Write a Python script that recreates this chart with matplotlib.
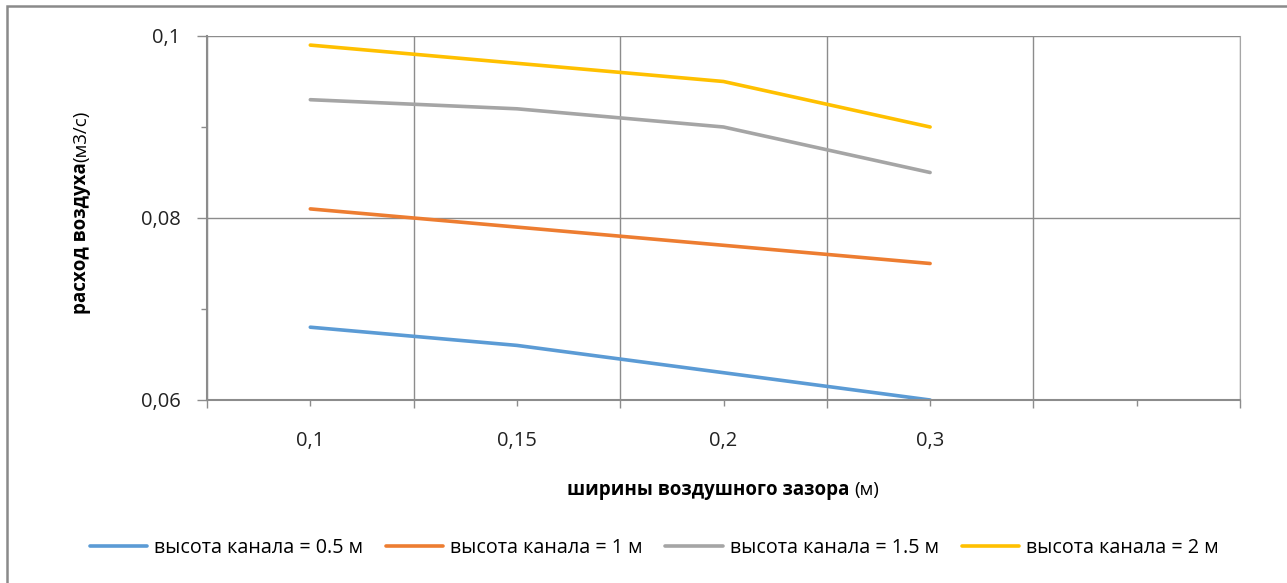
import matplotlib.pyplot as plt
from matplotlib.patches import Rectangle
from matplotlib.ticker import FixedLocator, NullFormatter

plt.rcParams['font.family'] = ['Open Sans', 'DejaVu Sans']

# ширина зазора (категории) и расход воздуха для каждой высоты канала
gap_labels = ["0,1", "0,15", "0,2", "0,3", ""]
flow_05 = [0.068, 0.066, 0.063, 0.060]
flow_1 = [0.081, 0.079, 0.077, 0.075]
flow_15 = [0.093, 0.092, 0.090, 0.085]
flow_2 = [0.099, 0.097, 0.095, 0.090]
series_names = ["высота канала = 0.5 м", "высота канала = 1 м",
                "высота канала = 1.5 м", "высота канала = 2 м"]
colors = ["#5B9BD5", "#ED7D31", "#A5A5A5", "#FFC000"]
y_ticks = [0.06, 0.08, 0.1]
y_tick_labels = ["0,06", "0,08", "0,1"]

W, H = 1287, 583
fig = plt.figure(figsize=(W / 100, H / 100), dpi=100)
ax = fig.add_axes([207 / W, 1 - 400 / H, 1033 / W, 364 / H])

xs = range(len(flow_05))
for vals, name, c in zip([flow_05, flow_1, flow_15, flow_2], series_names, colors):
    ax.plot(xs, vals, color=c, lw=2.6, label=name, solid_capstyle='round')

grid_col = "#8C8C8C"
ax.set_xlim(-0.5, len(gap_labels) - 0.5)
ax.set_ylim(0.06, 0.1)

# x: границы категорий - основные деления и сетка, подписи по центру
ax.xaxis.set_major_locator(FixedLocator([i + 0.5 for i in range(-1, len(gap_labels))]))
ax.xaxis.set_major_formatter(NullFormatter())
ax.xaxis.set_minor_locator(FixedLocator(list(range(len(gap_labels)))))
ax.set_xticklabels(gap_labels, minor=True)
ax.tick_params(axis='x', which='major', length=6, width=1, color=grid_col)
ax.tick_params(axis='x', which='minor', length=4, width=1, color=grid_col,
               labelsize=14.5, pad=18, labelcolor="#222222")

ax.set_yticks(y_ticks)
ax.set_yticklabels(y_tick_labels)
ax.yaxis.set_minor_locator(FixedLocator([0.07, 0.09]))
ax.tick_params(axis='y', which='major', length=7, width=1, color=grid_col,
               labelsize=14.5, pad=12, labelcolor="#222222")
ax.tick_params(axis='y', which='minor', length=4, width=1, color=grid_col)

ax.grid(True, which='major', color=grid_col, lw=1)
ax.set_axisbelow(True)
for side in ['left', 'bottom']:
    ax.spines[side].set_color(grid_col)
    ax.spines[side].set_linewidth(1.5)
ax.spines['right'].set_color("#A6A6A6")
ax.spines['top'].set_visible(False)

# подписи осей: жирная часть + обычная часть в скобках
fig.canvas.draw()
r = fig.canvas.get_renderer()
t1 = fig.text(0, 1 - 490 / H, "ширины воздушного зазора ", fontsize=13.5,
              fontweight='bold', va='center', ha='left')
t2 = fig.text(0, 1 - 490 / H, "(м)", fontsize=13.5, va='center', ha='left')
w1 = t1.get_window_extent(r).width
w2 = t2.get_window_extent(r).width
x0 = 723 - (w1 + w2) / 2
t1.set_x(x0 / W)
t2.set_x((x0 + w1) / W)

y1 = fig.text(81 / W, 0, "расход воздуха", fontsize=13.5, fontweight='bold',
              rotation=90, ha='center', va='bottom')
y2 = fig.text(81 / W, 0, "(м3/с)", fontsize=13.5, rotation=90,
              ha='center', va='bottom')
h1 = y1.get_window_extent(r).height
h2 = y2.get_window_extent(r).height
yb = (H - 212) - (h1 + h2) / 2
y1.set_y(yb / H)
y2.set_y((yb + h1) / H)

fig.legend(loc='center', bbox_to_anchor=(654 / W, 1 - 548 / H), ncol=4,
           frameon=False, fontsize=14.2, handlelength=2.9, handletextpad=0.35,
           columnspacing=1.17)

# рамка области диаграммы
fig.add_artist(Rectangle((7 / W, -0.1), 1.2, 1.1 - 6 / H, transform=fig.transFigure,
                         fill=False, edgecolor="#8A8A8A", lw=1.8))

fig.savefig("out.png", dpi=100)
